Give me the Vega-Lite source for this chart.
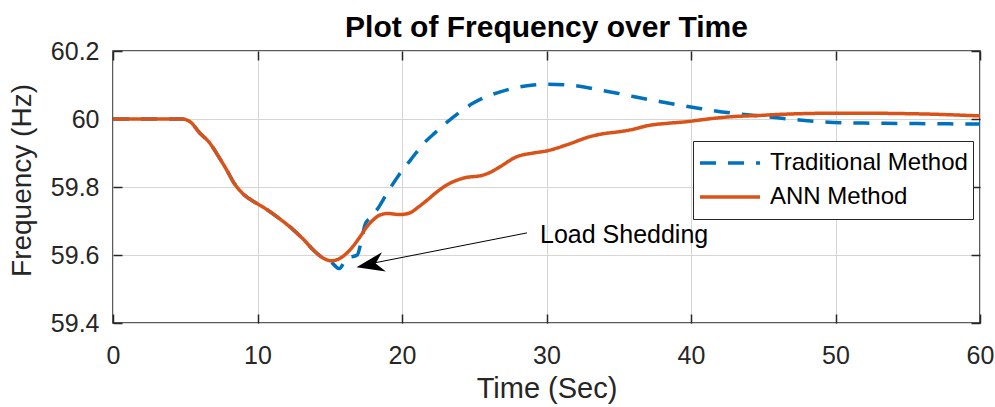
{
  "$schema": "https://vega.github.io/schema/vega-lite/v6.json",
  "width": 867,
  "height": 272,
  "autosize": {"type": "none"},
  "padding": {"left": 113, "top": 51, "right": 15, "bottom": 84},
  "background": "white",
  "title": {
    "text": "Plot of Frequency over Time",
    "fontSize": 30,
    "fontWeight": "bold",
    "font": "Liberation Sans",
    "color": "#000000",
    "anchor": "middle",
    "frame": "group",
    "offset": -4
  },
  "config": {
    "font": "Liberation Sans",
    "view": {"stroke": "#262626", "strokeWidth": 1.5},
    "legend": {
      "orient": "none",
      "legendX": 580,
      "legendY": 90,
      "fillColor": "white",
      "strokeColor": "#262626",
      "strokeWidth": 1,
      "padding": 5,
      "symbolType": "stroke",
      "symbolSize": 3600,
      "symbolStrokeWidth": 3.5,
      "labelFontSize": 24,
      "labelFont": "Liberation Sans",
      "labelColor": "#000000",
      "labelOffset": 8,
      "labelLimit": 400,
      "clipHeight": 34,
      "rowPadding": 0,
      "cornerRadius": 0
    }
  },
  "datasets": {
    "freq": [
      {"series": "Traditional Method", "t": 0, "f": 60},
      {"series": "Traditional Method", "t": 4.75, "f": 60},
      {"series": "Traditional Method", "t": 5.3, "f": 59.993},
      {"series": "Traditional Method", "t": 6.0, "f": 59.959},
      {"series": "Traditional Method", "t": 6.7, "f": 59.929},
      {"series": "Traditional Method", "t": 7.3, "f": 59.89},
      {"series": "Traditional Method", "t": 7.87, "f": 59.85},
      {"series": "Traditional Method", "t": 8.4, "f": 59.81},
      {"series": "Traditional Method", "t": 9.0, "f": 59.78},
      {"series": "Traditional Method", "t": 9.94, "f": 59.752},
      {"series": "Traditional Method", "t": 10.6, "f": 59.735},
      {"series": "Traditional Method", "t": 11.33, "f": 59.713},
      {"series": "Traditional Method", "t": 12.48, "f": 59.674},
      {"series": "Traditional Method", "t": 13.2, "f": 59.645},
      {"series": "Traditional Method", "t": 13.86, "f": 59.615},
      {"series": "Traditional Method", "t": 14.5, "f": 59.592},
      {"series": "Traditional Method", "t": 15.13, "f": 59.578},
      {"series": "Traditional Method", "t": 15.66, "f": 59.56},
      {"series": "Traditional Method", "t": 16.17, "f": 59.59},
      {"series": "Traditional Method", "t": 16.9, "f": 59.6},
      {"series": "Traditional Method", "t": 17.2, "f": 59.645},
      {"series": "Traditional Method", "t": 17.45, "f": 59.69},
      {"series": "Traditional Method", "t": 17.8, "f": 59.71},
      {"series": "Traditional Method", "t": 18.3, "f": 59.735},
      {"series": "Traditional Method", "t": 18.94, "f": 59.78},
      {"series": "Traditional Method", "t": 19.86, "f": 59.84},
      {"series": "Traditional Method", "t": 20.6, "f": 59.88},
      {"series": "Traditional Method", "t": 21.5, "f": 59.928},
      {"series": "Traditional Method", "t": 22.3, "f": 59.96},
      {"series": "Traditional Method", "t": 23.1, "f": 59.99},
      {"series": "Traditional Method", "t": 24.0, "f": 60.02},
      {"series": "Traditional Method", "t": 24.9, "f": 60.046},
      {"series": "Traditional Method", "t": 25.8, "f": 60.065},
      {"series": "Traditional Method", "t": 26.8, "f": 60.08},
      {"series": "Traditional Method", "t": 28.0, "f": 60.093},
      {"series": "Traditional Method", "t": 29.1, "f": 60.1},
      {"series": "Traditional Method", "t": 30.0, "f": 60.102},
      {"series": "Traditional Method", "t": 31.4, "f": 60.1},
      {"series": "Traditional Method", "t": 32.5, "f": 60.095},
      {"series": "Traditional Method", "t": 33.7, "f": 60.085},
      {"series": "Traditional Method", "t": 34.9, "f": 60.076},
      {"series": "Traditional Method", "t": 36.0, "f": 60.066},
      {"series": "Traditional Method", "t": 37.9, "f": 60.051},
      {"series": "Traditional Method", "t": 40.6, "f": 60.031},
      {"series": "Traditional Method", "t": 42.9, "f": 60.017},
      {"series": "Traditional Method", "t": 45.2, "f": 60.007},
      {"series": "Traditional Method", "t": 47.5, "f": 59.997},
      {"series": "Traditional Method", "t": 49.85, "f": 59.99},
      {"series": "Traditional Method", "t": 52.0, "f": 59.988},
      {"series": "Traditional Method", "t": 54.5, "f": 59.987},
      {"series": "Traditional Method", "t": 57.0, "f": 59.986},
      {"series": "Traditional Method", "t": 60, "f": 59.985},
      {"series": "ANN Method", "t": 0, "f": 60},
      {"series": "ANN Method", "t": 4.75, "f": 60},
      {"series": "ANN Method", "t": 5.3, "f": 59.993},
      {"series": "ANN Method", "t": 6.0, "f": 59.959},
      {"series": "ANN Method", "t": 6.7, "f": 59.929},
      {"series": "ANN Method", "t": 7.3, "f": 59.89},
      {"series": "ANN Method", "t": 7.87, "f": 59.85},
      {"series": "ANN Method", "t": 8.4, "f": 59.81},
      {"series": "ANN Method", "t": 9.0, "f": 59.78},
      {"series": "ANN Method", "t": 9.94, "f": 59.752},
      {"series": "ANN Method", "t": 10.6, "f": 59.735},
      {"series": "ANN Method", "t": 11.33, "f": 59.713},
      {"series": "ANN Method", "t": 12.48, "f": 59.674},
      {"series": "ANN Method", "t": 13.2, "f": 59.645},
      {"series": "ANN Method", "t": 13.86, "f": 59.615},
      {"series": "ANN Method", "t": 14.5, "f": 59.592},
      {"series": "ANN Method", "t": 15.13, "f": 59.583},
      {"series": "ANN Method", "t": 15.6, "f": 59.588},
      {"series": "ANN Method", "t": 16.17, "f": 59.605},
      {"series": "ANN Method", "t": 16.6, "f": 59.625},
      {"series": "ANN Method", "t": 17.1, "f": 59.654},
      {"series": "ANN Method", "t": 17.6, "f": 59.685},
      {"series": "ANN Method", "t": 18.0, "f": 59.703},
      {"series": "ANN Method", "t": 18.5, "f": 59.718},
      {"series": "ANN Method", "t": 19.0, "f": 59.722},
      {"series": "ANN Method", "t": 19.86, "f": 59.719},
      {"series": "ANN Method", "t": 20.55, "f": 59.724},
      {"series": "ANN Method", "t": 21.1, "f": 59.74},
      {"series": "ANN Method", "t": 21.7, "f": 59.76},
      {"series": "ANN Method", "t": 22.4, "f": 59.785},
      {"series": "ANN Method", "t": 23.1, "f": 59.806},
      {"series": "ANN Method", "t": 24.24, "f": 59.826},
      {"series": "ANN Method", "t": 25.6, "f": 59.835},
      {"series": "ANN Method", "t": 26.2, "f": 59.845},
      {"series": "ANN Method", "t": 26.8, "f": 59.86},
      {"series": "ANN Method", "t": 27.94, "f": 59.889},
      {"series": "ANN Method", "t": 29.1, "f": 59.9},
      {"series": "ANN Method", "t": 30.0, "f": 59.906},
      {"series": "ANN Method", "t": 31.4, "f": 59.924},
      {"series": "ANN Method", "t": 33.0, "f": 59.948},
      {"series": "ANN Method", "t": 33.7, "f": 59.955},
      {"series": "ANN Method", "t": 35.1, "f": 59.963},
      {"series": "ANN Method", "t": 35.8, "f": 59.968},
      {"series": "ANN Method", "t": 37.2, "f": 59.982},
      {"series": "ANN Method", "t": 38.3, "f": 59.987},
      {"series": "ANN Method", "t": 39.9, "f": 59.993},
      {"series": "ANN Method", "t": 40.6, "f": 59.997},
      {"series": "ANN Method", "t": 42.9, "f": 60.007},
      {"series": "ANN Method", "t": 44.5, "f": 60.01},
      {"series": "ANN Method", "t": 46.4, "f": 60.014},
      {"series": "ANN Method", "t": 49.85, "f": 60.017},
      {"series": "ANN Method", "t": 52.2, "f": 60.017},
      {"series": "ANN Method", "t": 54.5, "f": 60.016},
      {"series": "ANN Method", "t": 56.8, "f": 60.014},
      {"series": "ANN Method", "t": 60, "f": 60.009}
    ],
    "arrowLine": [{"t": 28.65, "f": 59.665, "t2": 17.99, "f2": 59.576}],
    "arrowHead": [{"t": 17.8, "f": 59.572}],
    "note": [{"t": 29.55, "f": 59.635, "label": "Load Shedding"}]
  },
  "resolve": {"axis": {"x": "independent", "y": "independent"}},
  "layer": [
    {
      "data": {"name": "freq"},
      "transform": [{"filter": "datum.series === 'Traditional Method'"}],
      "mark": {"type": "line", "strokeWidth": 3.5, "interpolate": "monotone"},
      "encoding": {
        "x": {
          "field": "t", "type": "quantitative",
          "scale": {"domain": [0, 60], "nice": false},
          "axis": {
            "values": [0, 10, 20, 30, 40, 50, 60],
            "grid": true, "gridColor": "#d6d6d6", "gridWidth": 1,
            "domain": false,
            "tickSize": -9, "tickColor": "#262626", "tickWidth": 1.5,
            "labelFontSize": 25, "labelFont": "Liberation Sans", "labelColor": "#262626",
            "labelPadding": 29, "labelFlush": false, "labelOverlap": false,
            "title": "Time (Sec)", "titleFontSize": 29, "titleFont": "Liberation Sans",
            "titleFontWeight": "normal", "titleColor": "#262626",
            "titleY": 74, "titleBaseline": "alphabetic"
          }
        },
        "y": {
          "field": "f", "type": "quantitative",
          "scale": {"domain": [59.4, 60.2], "nice": false, "zero": false},
          "axis": {
            "values": [59.4, 59.6, 59.8, 60, 60.2],
            "format": "~g",
            "grid": true, "gridColor": "#d6d6d6", "gridWidth": 1,
            "domain": false,
            "tickSize": -9, "tickColor": "#262626", "tickWidth": 1.5,
            "labelFontSize": 25, "labelFont": "Liberation Sans", "labelColor": "#262626",
            "labelPadding": 23, "labelOverlap": false,
            "title": "Frequency (Hz)", "titleFontSize": 28, "titleFont": "Liberation Sans",
            "titleFontWeight": "normal", "titleColor": "#262626",
            "titleX": -83, "titleY": 129, "titleBaseline": "alphabetic", "titleAngle": -90, "titleAlign": "center"
          }
        },
        "color": {
          "field": "series", "type": "nominal",
          "scale": {"domain": ["Traditional Method", "ANN Method"], "range": ["#0072BD", "#D95319"]},
          "legend": {"title": null}
        },
        "strokeDash": {
          "field": "series", "type": "nominal",
          "scale": {"domain": ["Traditional Method", "ANN Method"], "range": [[16, 12], [1, 0]]},
          "legend": {"title": null}
        }
      }
    },
    {
      "data": {"name": "freq"},
      "transform": [{"filter": "datum.series === 'ANN Method'"}],
      "mark": {"type": "line", "strokeWidth": 3.5, "interpolate": "monotone"},
      "encoding": {
        "x": {"field": "t", "type": "quantitative", "axis": null},
        "y": {"field": "f", "type": "quantitative", "axis": null},
        "color": {"field": "series", "type": "nominal", "legend": {"title": null}},
        "strokeDash": {"field": "series", "type": "nominal", "legend": {"title": null}}
      }
    },
    {
      "data": {"name": "freq"},
      "mark": {"type": "point", "opacity": 0},
      "encoding": {
        "x": {
          "field": "t", "type": "quantitative",
          "axis": {"orient": "top", "values": [0, 10, 20, 30, 40, 50, 60], "labels": false, "grid": false, "domain": false, "tickSize": -9, "tickColor": "#262626", "tickWidth": 1.5, "title": null}
        },
        "y": {
          "field": "f", "type": "quantitative",
          "axis": {"orient": "right", "values": [59.4, 59.6, 59.8, 60, 60.2], "labels": false, "grid": false, "domain": false, "tickSize": -9, "tickColor": "#262626", "tickWidth": 1.5, "title": null}
        }
      }
    },
    {
      "data": {"name": "arrowLine"},
      "mark": {"type": "rule", "color": "#000000", "strokeWidth": 1},
      "encoding": {
        "x": {"field": "t", "type": "quantitative", "axis": null},
        "y": {"field": "f", "type": "quantitative", "axis": null},
        "x2": {"field": "t2"},
        "y2": {"field": "f2"}
      }
    },
    {
      "data": {"name": "arrowHead"},
      "mark": {"type": "point", "shape": "M-1,0L1,-0.7L0.4,0L1,0.7Z", "filled": true, "color": "#000000", "opacity": 1, "size": 784, "angle": -11.3},
      "encoding": {
        "x": {"field": "t", "type": "quantitative", "axis": null},
        "y": {"field": "f", "type": "quantitative", "axis": null}
      }
    },
    {
      "data": {"name": "note"},
      "mark": {"type": "text", "align": "left", "baseline": "alphabetic", "fontSize": 25, "font": "Liberation Sans", "color": "#000000"},
      "encoding": {
        "x": {"field": "t", "type": "quantitative", "axis": null},
        "y": {"field": "f", "type": "quantitative", "axis": null},
        "text": {"field": "label"}
      }
    }
  ]
}
